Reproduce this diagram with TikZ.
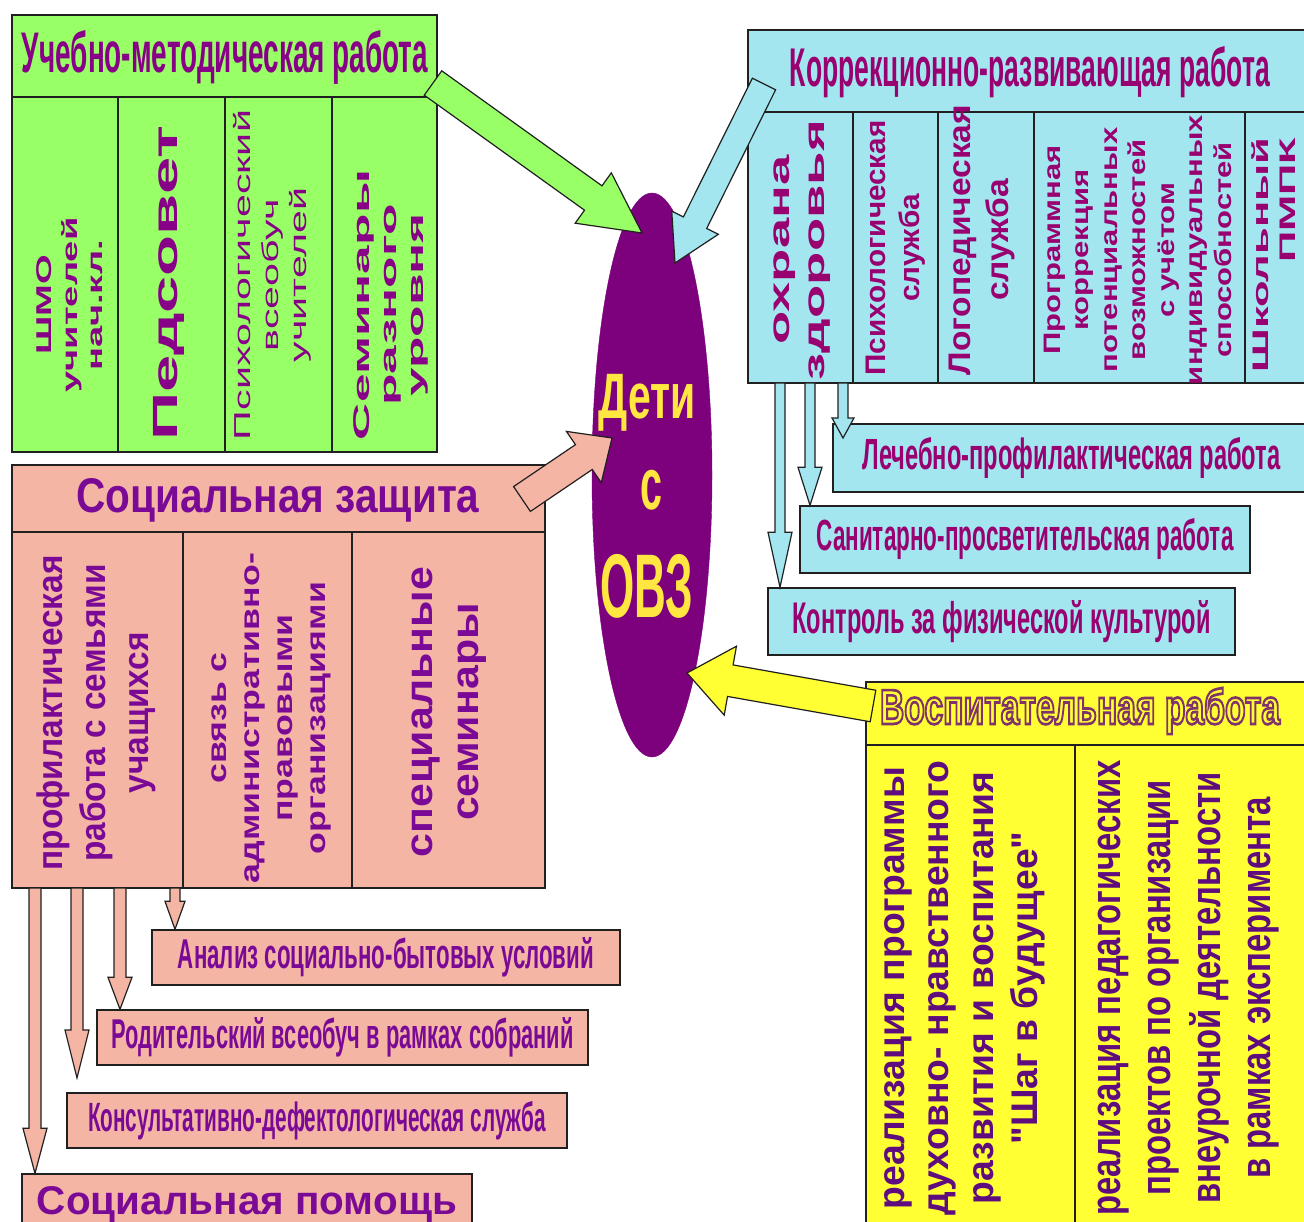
\documentclass[tikz,border=0pt]{standalone}
\usepackage{fontspec}
\setmainfont{Liberation Sans}
\newfontfamily\qfont{Liberation Sans}
\usepackage{graphicx}
\usetikzlibrary{calc,shapes.geometric}
\definecolor{gfill}{HTML}{99FF66}
\definecolor{bfill}{HTML}{A3E6F0}
\definecolor{pfill}{HTML}{F5B5A5}
\definecolor{yfill}{HTML}{FFFF33}
\definecolor{ovz}{HTML}{7D007D}
\definecolor{gtxt}{HTML}{880088}
\definecolor{btxt}{HTML}{990070}
\definecolor{ptxt}{HTML}{7A0A96}
\definecolor{ytxt}{HTML}{5E0C7E}
\definecolor{ovztxt}{HTML}{FFE640}
\definecolor{edge}{HTML}{202020}

\newcommand{\vt}[3]{\resizebox*{#1pt}{#2pt}{\begin{tabular}{@{}c@{}}#3\end{tabular}}}
\newcommand{\vtr}[3]{\resizebox*{#1pt}{#2pt}{\begin{tabular}{@{}r@{}}#3\end{tabular}}}
\newcommand{\hz}[3]{\resizebox{#1pt}{#2pt}{#3}}
\newcommand{\outlined}[1]{\textcolor{yfill}{\special{pdf:literal direct 0.5 0.2 0.42 RG 0.55 w 2 Tr}#1\special{pdf:literal direct 0 Tr}}}
\newcommand{\blockarrow}[6]{%
  \coordinate (baC) at ($(#3)!#6pt!(#2)$);
  \draw[#1] ($(#2)!#4pt!90:(#3)$) -- ($(baC)!#4pt!-90:(#2)$) -- ($(baC)!#5pt!-90:(#2)$) -- (#3) -- ($(baC)!#5pt!90:(#2)$) -- ($(baC)!#4pt!90:(#2)$) -- ($(#2)!#4pt!-90:(#3)$) -- cycle;
}

\begin{document}
\begin{tikzpicture}[x=1pt,y=-1pt]
\tikzset{
  boxline/.style={draw=edge, line width=1.4pt},
  subbox/.style={draw=edge, line width=1.4pt, inner sep=0pt, font=\bfseries},
  vtxt/.style={rotate=90, inner sep=0pt, font=\bfseries},
  ttl/.style={inner sep=0pt, font=\bfseries},
  arr/.style={draw=edge, line width=1.2pt},
}
\useasboundingbox (0,0) rectangle (1304,1222);
\clip (0,0) rectangle (1304,1222);
\fill[white] (0,0) rectangle (1304,1222);

% green block
\draw[boxline, fill=gfill] (12,15) rectangle (437,452);
\draw[boxline] (12,97) -- (437,97) (118,97) -- (118,452) (225,97) -- (225,452) (332,97) -- (332,452);
% blue block
\draw[boxline, fill=bfill] (748,30) rectangle (1320,383);
\draw[boxline] (748,112) -- (1320,112) (853,112)--(853,383) (938,112)--(938,383) (1034,112)--(1034,383) (1245,112)--(1245,383);
% pink block
\draw[boxline, fill=pfill] (12,465) rectangle (545,888);
\draw[boxline] (12,532) -- (545,532) (183,532)--(183,888) (352,532)--(352,888);
% yellow block
\draw[boxline, fill=yfill] (866,682) rectangle (1320,1240);
\draw[boxline] (866,745)--(1320,745) (1075,745)--(1075,1240);

% sub boxes (blue)
\node[subbox, fill=bfill, text=btxt, minimum width=477pt, minimum height=68pt] (lech) at (1071.5,458) {\hz{418}{32}{Лечебно-профилактическая работа}};
\node[subbox, fill=bfill, text=btxt, minimum width=450pt, minimum height=67pt] (sanit) at (1025,539.5) {\hz{417}{32}{Санитарно-просветительская работа}};
\node[subbox, fill=bfill, text=btxt, minimum width=467pt, minimum height=67pt] (kontr) at (1001.5,621.5) {\hz{418}{33}{Контроль за физической культурой}};
% sub boxes (pink)
\node[subbox, fill=pfill, text=ptxt, minimum width=468pt, minimum height=55pt] (anal) at (386,957.5) {\hz{416}{31}{Анализ социально-бытовых условий}};
\node[subbox, fill=pfill, text=ptxt, minimum width=491pt, minimum height=55pt] (rod) at (342.5,1037.5) {\hz{462}{31}{Родительский всеобуч в рамках собраний}};
\node[subbox, fill=pfill, text=ptxt, minimum width=500pt, minimum height=55pt] (kons) at (317,1120.5) {\hz{458}{30}{Консультативно-дефектологическая служба}};
\node[subbox, fill=pfill, text=ptxt, minimum width=450pt, minimum height=60pt] (pom) at (247,1204) {\hz{420}{28}{Социальная помощь}};

% small arrows (blue)
\coordinate (bs1) at (780,383); \coordinate (bt1) at (bs1 |- kontr.north);
\coordinate (bs2) at (810,383); \coordinate (bt2) at (bs2 |- sanit.north);
\coordinate (bs3) at (843,383); \coordinate (bt3) at (843,438);
\blockarrow{arr, fill=bfill}{bs1}{bt1}{5}{12}{55}
\blockarrow{arr, fill=bfill}{bs2}{bt2}{5}{12}{38}
\blockarrow{arr, fill=bfill}{bs3}{bt3}{5}{11}{20}
% small arrows (pink)
\coordinate (ps1) at (175,888); \coordinate (pt1) at (ps1 |- anal.north);
\coordinate (ps2) at (120,888); \coordinate (pt2) at (ps2 |- rod.north);
\coordinate (ps3) at (77,888);  \coordinate (pt3) at (77,1078);
\coordinate (ps4) at (35,888);  \coordinate (pt4) at (ps4 |- pom.north);
\blockarrow{arr, fill=pfill}{ps1}{pt1}{5}{10}{28}
\blockarrow{arr, fill=pfill}{ps2}{pt2}{6}{12}{32}
\blockarrow{arr, fill=pfill}{ps3}{pt3}{6}{12}{48}
\blockarrow{arr, fill=pfill}{ps4}{pt4}{6}{12}{45}

% central ellipse
\node[ellipse, draw=ovz, fill=ovz, minimum width=120pt, minimum height=564pt, inner sep=0pt] (ovz) at (652,475) {};

% big arrows
\coordinate (ga) at (433,83);  \coordinate (gb) at (642,233);
\coordinate (ca) at (764,84);  \coordinate (cb) at (675,263);
\coordinate (pa) at (522,499); \coordinate (pb) at (612,438);
\coordinate (ya) at (873,706); \coordinate (yb) at (687,673);
\blockarrow{arr, fill=gfill}{ga}{gb}{15}{31}{60}
\blockarrow{arr, fill=bfill}{ca}{cb}{13}{26}{45}
\blockarrow{arr, fill=pfill}{pa}{pb}{15}{31}{34}
\blockarrow{arr, fill=yfill}{ya}{yb}{16}{35}{44}

% ellipse text
\node[ttl, text=ovztxt] (ovz1) at (647,403) {\resizebox*{97pt}{57pt}{Дети}};
\node[ttl, text=ovztxt] (ovz2) at (651,490) {\resizebox*{22pt}{40pt}{с}};
\node[ttl, text=ovztxt] (ovz3) at (647,586) {\resizebox*{93pt}{64pt}{ОВЗ}};

% titles
\node[ttl, text=gtxt] (gt) at (225,57) {\hz{406}{42}{Учебно-методическая работа}};
\node[ttl, text=btxt] (bt) at (1030,72) {\hz{480}{40}{Коррекционно-развивающая работа}};
\node[ttl, text=ptxt] (pt) at (278,500) {\hz{403}{34}{Социальная защита}};
\node[ttl] (yt) at (1080,711) {\hz{400}{36}{\outlined{Воспитательная работа}}};

% green columns
\node[vtxt, text=gtxt] (g1) at (72,305) {\vt{175}{77}{ШМО\\учителей\\нач.кл.}};
\node[vtxt, text=gtxt] (g2) at (169,283) {\vt{315}{42}{Педсовет}};
\node[vtxt, text=gtxt, font=\mdseries] (g3) at (273,275) {\vt{330}{83}{Психологический\\всеобуч\\учителей}};
\node[vtxt, text=gtxt] (g4) at (391,305) {\vt{270}{82}{Семинары\\разного\\уровня}};
% blue columns
\node[vtxt, text=btxt] (b1) at (800,250) {\vt{260}{70}{охрана\\здоровья}};
\node[vtxt, text=btxt] (b2) at (896,248) {\vt{255}{68}{Психологическая\\служба}};
\node[vtxt, text=btxt] (b3) at (982,240) {\vt{270}{75}{Логопедическая\\служба}};
\node[vtxt, text=btxt] (b4) at (1140,250) {\vt{270}{200}{Программная\\коррекция\\потенциальных\\возможностей\\с учётом\\индивидуальных\\способностей}};
\node[vtxt, text=btxt] (b5) at (1277,255) {\vtr{235}{54}{Школьный\\ПМПК}};
% pink columns
\node[vtxt, text=ptxt] (p1) at (97,713) {\vt{315}{128}{профилактическая\\работа с семьями\\учащихся}};
\node[vtxt, text=ptxt] (p2) at (269,718) {\vt{330}{132}{связь с\\административно-\\правовыми\\организациями}};
\node[vtxt, text=ptxt] (p3) at (446,712) {\vt{290}{92}{специальные\\семинары}};
% yellow columns
\node[vtxt, text=ytxt] (y1) at (962,988) {\vt{455}{178}{реализация программы\\духовно- нравственного\\развития и воспитания\\{\qfont"}Шаг в будущее{\qfont"}}};
\node[vtxt, text=ytxt] (y2) at (1185,988) {\vt{455}{200}{реализация педагогических\\проектов по организации\\внеурочной деятельности\\в рамках эксперимента}};
\end{tikzpicture}
\end{document}
